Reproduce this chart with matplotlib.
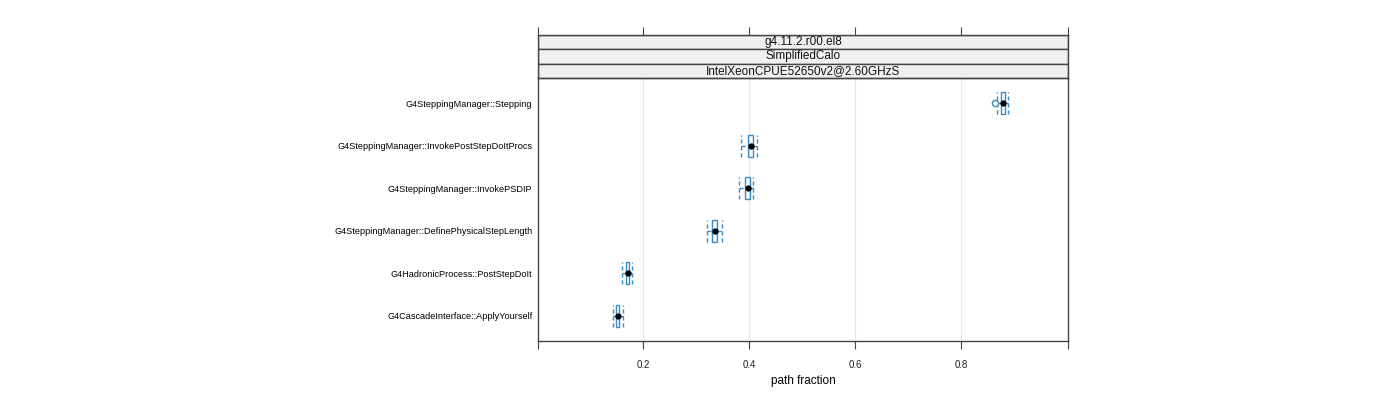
import matplotlib
matplotlib.use("Agg")
import matplotlib.pyplot as plt
from matplotlib.patches import Rectangle

plt.rcParams['font.family'] = ['Liberation Sans', 'DejaVu Sans']

# rows from bottom to top
functions = [
    "G4CascadeInterface::ApplyYourself",
    "G4HadronicProcess::PostStepDoIt",
    "G4SteppingManager::DefinePhysicalStepLength",
    "G4SteppingManager::InvokePSDIP",
    "G4SteppingManager::InvokePostStepDoItProcs",
    "G4SteppingManager::Stepping",
]
whisk_lo = [0.143, 0.160, 0.321, 0.381, 0.385, 0.868]
box_lo = [0.149, 0.168, 0.330, 0.392, 0.398, 0.8755]
medians = [0.153, 0.172, 0.336, 0.398, 0.404, 0.879]
box_hi = [0.155, 0.174, 0.340, 0.402, 0.4075, 0.883]
whisk_hi = [0.162, 0.179, 0.349, 0.408, 0.415, 0.889]
outliers = [[], [], [], [], [], [0.864]]

strips = ["g4.11.2.r00.el8", "SimplifiedCalo", "IntelXeonCPUE52650v2@2.60GHzS"]
xticks = [0.2, 0.4, 0.6, 0.8]

blue = "#3a8cc4"
border = "#444444"

fig = plt.figure(figsize=(14, 4), dpi=100)
left, right = 538 / 1400, 1068 / 1400
ax = fig.add_axes([left, 1 - 341 / 400, right - left, (341 - 78) / 400])
ax.set_xlim(0.002, 1.002)
ax.set_ylim(0.4, 6.6)

for x in xticks:
    ax.axvline(x, color="#e8e8e8", lw=0.8, zorder=0)

h = 0.26
for i in range(len(functions)):
    y = i + 1
    ax.add_patch(Rectangle((box_lo[i], y - h), box_hi[i] - box_lo[i], 2 * h,
                           fill=False, edgecolor=blue, lw=1.0, zorder=2))
    ax.plot([whisk_lo[i], box_lo[i]], [y, y], color=blue, lw=1.0, ls=(0, (3, 2)), zorder=2)
    ax.plot([box_hi[i], whisk_hi[i]], [y, y], color=blue, lw=1.0, ls=(0, (3, 2)), zorder=2)
    ax.plot([whisk_lo[i], whisk_lo[i]], [y - h, y + h], color=blue, lw=1.0, ls=(0, (3, 2)), zorder=2)
    ax.plot([whisk_hi[i], whisk_hi[i]], [y - h, y + h], color=blue, lw=1.0, ls=(0, (3, 2)), zorder=2)
    ax.plot([medians[i]], [y], "o", color="black", ms=3.5, zorder=3)
    for o in outliers[i]:
        ax.plot([o], [y], "o", mfc="white", mec=blue, ms=4.5, mew=1.0, zorder=2)

ax.set_yticks(range(1, len(functions) + 1))
ax.set_yticklabels(functions, fontsize=6.6)
ax.tick_params(axis="y", length=0, pad=4)
ax.set_xticks([0.002] + xticks + [1.002])
ax.set_xticklabels([""] + ["%.1f" % t for t in xticks] + [""], fontsize=7, color="#222222")
ax.tick_params(axis="x", length=6, direction="out", color=border, pad=8)
ax.set_xlabel("path fraction", fontsize=8.5, labelpad=3)
for s in ax.spines.values():
    s.set_color(border)
    s.set_linewidth(1.0)

# strips
sax = fig.add_axes([left, 1 - 78 / 400, right - left, (78 - 35) / 400])
sax.set_xlim(0.002, 1.002)
sax.set_ylim(0, 3)
for j, label in enumerate(strips):
    y0 = 2 - j
    sax.add_patch(Rectangle((0.002, y0), 1.0, 1, facecolor="#f0f0f0", edgecolor=border, lw=1.0))
    sax.text(0.502, y0 + 0.5, label, ha="center", va="center", fontsize=8.5, color="#111111")
sax.set_yticks([])
sax.set_xticks([0.002] + xticks + [1.002])
sax.tick_params(axis="x", top=True, bottom=False, labeltop=False, labelbottom=False,
                length=6, direction="out", color=border)
for s in sax.spines.values():
    s.set_color(border)
    s.set_linewidth(1.0)

fig.savefig("out.png", dpi=100)
